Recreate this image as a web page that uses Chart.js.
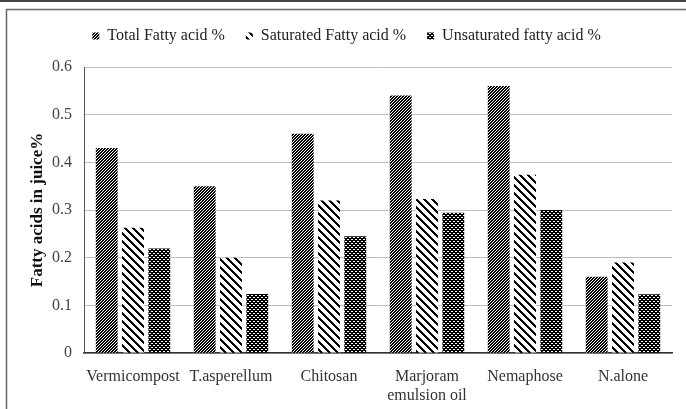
<!DOCTYPE html>
<html lang="en">
<head>
  <meta charset="UTF-8">
  <title>Fatty acids in juice</title>
  <script src="https://cdn.jsdelivr.net/npm/chart.js"></script>
  <style>
    html, body { margin: 0; padding: 0; background: #fff; }
    #wrap { position: relative; width: 686px; height: 409px; }
  </style>
</head>
<body>
  <div id="wrap"><canvas id="grafico" width="686" height="409"></canvas></div>

  <script>
    const categorias = ['Vermicompost', 'T.asperellum', 'Chitosan', ['Marjoram', 'emulsion oil'], 'Nemaphose', 'N.alone'];
    const totalFatty = [0.43, 0.35, 0.46, 0.54, 0.56, 0.16];
    const saturado = [0.263, 0.20, 0.32, 0.323, 0.374, 0.19];
    const insaturado = [0.219, 0.124, 0.245, 0.294, 0.30, 0.123];
    const ticksY = [0, 0.1, 0.2, 0.3, 0.4, 0.5, 0.6];

    // padroes de preenchimento (tile pixel a pixel)
    function padrao(tam, escuro) {
      const c = document.createElement('canvas');
      c.width = c.height = tam;
      const g = c.getContext('2d');
      const img = g.createImageData(tam, tam);
      for (let y = 0; y < tam; y++) {
        for (let x = 0; x < tam; x++) {
          const i = (y * tam + x) * 4;
          const v = escuro(x, y) ? 0 : 255;
          img.data[i] = img.data[i + 1] = img.data[i + 2] = v;
          img.data[i + 3] = 255;
        }
      }
      g.putImageData(img, 0, 0);
      return g.createPattern(c, 'repeat');
    }

    const pTotal = padrao(3, (x, y) => (x + y) % 3 < 2);
    const pSat = padrao(8, (x, y) => ((x - y + 8) % 8) < 3);
    const pInsat = padrao(4, (x, y) => !((y === 1 && (x === 1 || x === 2)) || (y === 3 && (x === 3 || x === 0))));

    const moldura = {
      id: 'moldura',
      afterInit(chart) {
        // altura fixa da legenda para posicionar o topo do grafico
        const fit = chart.legend.fit;
        chart.legend.fit = function () { fit.call(this); this.height = 60; };
      },
      beforeDraw(chart) {
        const ctx = chart.ctx;
        ctx.save();
        ctx.strokeStyle = '#444';
        ctx.lineWidth = 2;
        ctx.beginPath();
        ctx.moveTo(0, 1); ctx.lineTo(686, 1);
        ctx.stroke();
        ctx.strokeStyle = '#666';
        ctx.lineWidth = 1.5;
        ctx.beginPath();
        ctx.moveTo(6.5, 409); ctx.lineTo(6.5, 9.5); ctx.lineTo(686, 9.5);
        ctx.stroke();
        ctx.restore();
      }
    };

    const serif = 'Liberation Serif';

    new Chart(document.getElementById('grafico'), {
      type: 'bar',
      data: {
        labels: categorias,
        datasets: [
          { label: 'Total Fatty acid %', data: totalFatty, backgroundColor: pTotal },
          { label: 'Saturated Fatty acid %', data: saturado, backgroundColor: pSat },
          { label: 'Unsaturated fatty acid %', data: insaturado, backgroundColor: pInsat }
        ]
      },
      options: {
        responsive: false,
        animation: false,
        datasets: { bar: { categoryPercentage: 0.805, barPercentage: 0.83 } },
        layout: { padding: { top: 7, right: 14, left: 21, bottom: 0 } },
        plugins: {
          legend: {
            position: 'top',
            labels: {
              boxWidth: 7, boxHeight: 7, padding: 21,
              color: '#222',
              font: { family: serif, size: 16 }
            }
          },
          tooltip: { enabled: false }
        },
        scales: {
          x: {
            grid: { display: false },
            border: { display: true, color: '#333', width: 1.5 },
            ticks: { color: '#333', padding: 6, font: { family: serif, size: 16 }, maxRotation: 0, autoSkip: false },
            afterFit(s) { s.height = 56; }
          },
          y: {
            min: 0, max: 0.6,
            afterBuildTicks(s) { s.ticks = ticksY.map(v => ({ value: v })); },
            grid: { color: '#bfbfbf', lineWidth: 1, drawTicks: false },
            border: { display: true, color: '#595959', width: 1 },
            ticks: { color: '#444', padding: 12, font: { family: serif, size: 16 } },
            title: { display: true, text: 'Fatty acids in juice%', color: '#111', padding: { top: 6 }, font: { family: serif, size: 17, weight: 'bold' } },
            afterFit(s) { s.width = 63; }
          }
        }
      },
      plugins: [moldura]
    });
  </script>
</body>
</html>
